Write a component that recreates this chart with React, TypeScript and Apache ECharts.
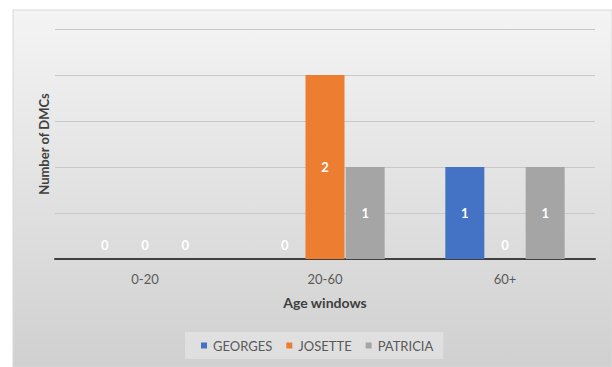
import React, { useEffect, useRef } from "react";
import * as echarts from "echarts";

const categories = ["0-20", "20-60", "60+"];
const georges = [0, 0, 1];
const josette = [0, 2, 0];
const patricia = [0, 1, 1];
const seriesNames = ["GEORGES", "JOSETTE", "PATRICIA"];
const colors = ["#4472C4", "#ED7D31", "#A5A5A5"];

const FONT = "Lato, 'Open Sans', sans-serif";

function toData(vals: number[]) {
  return vals.map((v) =>
    v === 0
      ? { value: v, label: { position: "top", distance: 8 } }
      : { value: v }
  );
}

export default function App() {
  const ref = useRef<HTMLDivElement>(null);
  useEffect(() => {
    if (!ref.current) return;
    const chart = echarts.init(ref.current, null, { renderer: "svg" });
    const seriesVals = [georges, josette, patricia];
    chart.setOption({
      animation: false,
      backgroundColor: "#ffffff",
      graphic: [
        {
          type: "rect",
          z: -10,
          shape: { x: 13, y: 10, width: 599, height: 357 },
          style: {
            fill: new echarts.graphic.LinearGradient(0, 0, 0, 1, [
              { offset: 0, color: "#f4f4f4" },
              { offset: 1, color: "#d0d0d0" },
            ]),
            stroke: "#d8d8d8",
            lineWidth: 1,
          },
        },
      ],
      grid: { left: 55, right: 17, top: 29, height: 230 },
      xAxis: {
        type: "category",
        data: categories,
        axisLine: { show: true, lineStyle: { color: "#404040", width: 2 } },
        axisTick: { show: false },
        axisLabel: { color: "#595959", fontSize: 13, fontFamily: FONT, margin: 13 },
        name: "Age windows",
        nameLocation: "middle",
        nameGap: 36,
        nameTextStyle: { color: "#404040", fontSize: 14, fontWeight: "bold", fontFamily: FONT },
      },
      yAxis: {
        type: "value",
        min: 0,
        max: 2.5,
        interval: 0.5,
        axisLine: { show: false },
        axisTick: { show: false },
        axisLabel: { show: false },
        splitLine: { show: true, lineStyle: { color: "#c8c8c8", width: 1 } },
        name: "Number of DMCs",
        nameLocation: "middle",
        nameGap: 5,
        nameTextStyle: { color: "#404040", fontSize: 13, fontWeight: "bold", fontFamily: FONT },
      },
      legend: {
        left: 185,
        top: 332,
        padding: [7, 10, 7, 16],
        backgroundColor: "rgba(255,255,255,0.3)",
        icon: "rect",
        itemWidth: 6,
        itemHeight: 6,
        itemGap: 14,
        data: seriesNames,
        textStyle: { color: "#595959", fontSize: 13, fontFamily: FONT, padding: [0, 0, 0, 1] },
      },
      series: seriesNames.map((name, i) => ({
        name,
        type: "bar",
        barWidth: 39,
        barGap: "3%",
        itemStyle: { color: colors[i] },
        label: {
          show: true,
          position: "inside",
          color: "#ffffff",
          fontWeight: "bold",
          fontSize: 13,
          fontFamily: FONT,
        },
        data: toData(seriesVals[i]),
      })),
    });
    return () => chart.dispose();
  }, []);
  return (
    <div
      ref={ref}
      style={{ position: "absolute", left: 0, top: 0, width: 612, height: 367 }}
    />
  );
}
